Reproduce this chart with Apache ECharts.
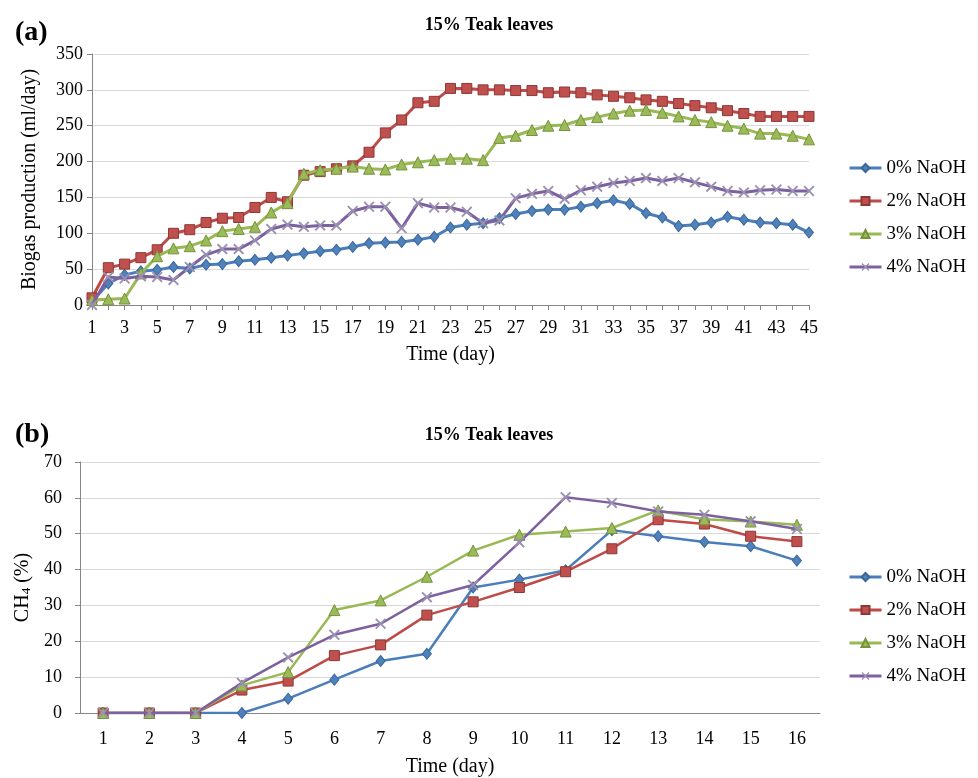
<!DOCTYPE html>
<html>
<head>
<meta charset="utf-8">
<title>15% Teak leaves</title>
<script src="https://cdn.jsdelivr.net/npm/echarts@6/dist/echarts.min.js"></script>
<style>
html, body { margin: 0; padding: 0; background: #fff; }
#chart { width: 978px; height: 778px; }
</style>
</head>
<body>
<div id="chart"></div>
<script>
// (a) biogas production, ml/day
const biogasDays = ["1", "2", "3", "4", "5", "6", "7", "8", "9", "10", "11", "12", "13", "14", "15",
  "16", "17", "18", "19", "20", "21", "22", "23", "24", "25", "26", "27", "28", "29", "30",
  "31", "32", "33", "34", "35", "36", "37", "38", "39", "40", "41", "42", "43", "44", "45"];
const biogas0 = [5, 30, 42, 47, 49, 53, 51, 56, 57, 61, 63, 66, 69, 72, 75, 77, 81, 86, 87, 88,
  91, 95, 108, 112, 114, 121, 127, 131, 133, 133, 137, 142, 146, 141, 128, 122, 110, 112, 115, 123,
  119, 115, 114, 112, 101];
const biogas2 = [10, 52, 57, 66, 77, 100, 105, 115, 121, 122, 136, 150, 144, 181, 186, 190, 194, 213, 240, 258,
  282, 284, 302, 302, 300, 300, 299, 299, 296, 297, 296, 293, 291, 289, 286, 284, 281, 278, 275, 271,
  267, 263, 263, 263, 263];
const biogas3 = [7, 8, 9, 44, 68, 79, 82, 90, 103, 106, 109, 129, 142, 183, 188, 190, 193, 190, 189, 196,
  199, 202, 204, 204, 202, 233, 236, 244, 250, 251, 258, 262, 267, 271, 272, 268, 263, 258, 255, 250,
  246, 239, 239, 236, 231];
const biogas4 = [0, 39, 37, 40, 39, 35, 53, 70, 78, 78, 90, 106, 112, 109, 111, 111, 131, 137, 137, 107,
  142, 136, 136, 130, 114, 118, 149, 155, 159, 148, 160, 165, 170, 173, 177, 173, 177, 171, 165, 159,
  157, 160, 161, 159, 159];

// (b) CH4 content, %
const ch4Days = ["1", "2", "3", "4", "5", "6", "7", "8", "9", "10", "11", "12", "13", "14", "15", "16"];
const ch4_0 = [0, 0, 0, 0, 4, 9.3, 14.5, 16.5, 35, 37.2, 39.8, 51, 49.3, 47.7, 46.5, 42.5];
const ch4_2 = [0, 0, 0, 6.4, 8.9, 16, 19, 27.3, 31, 35, 39.4, 45.8, 53.9, 52.7, 49.3, 47.8];
const ch4_3 = [0, 0, 0, 7.7, 11.4, 28.7, 31.4, 38, 45.3, 49.7, 50.6, 51.6, 56.5, 54, 53.4, 52.5];
const ch4_4 = [0, 0, 0, 8.4, 15.5, 21.8, 24.9, 32.3, 35.7, 47.6, 60.2, 58.6, 56.2, 55.3, 53.5, 51.3];

const names = ["0% NaOH", "2% NaOH", "3% NaOH", "4% NaOH"];

const font = '"Liberation Serif", "Times New Roman", serif';
const crossPath = "path://M0,1.2L1.2,0L5,3.8L8.8,0L10,1.2L6.2,5L10,8.8L8.8,10L5,6.2L1.2,10L0,8.8L3.8,5Z";
const styles = [
  { line: "#4A7EBB", fill: "#4F81BD", border: "#3A6797", symbol: "diamond", size: [9, 11] },
  { line: "#BE4B48", fill: "#C0504D", border: "#8C3836", symbol: "rect", size: 10 },
  { line: "#98B954", fill: "#9BBB59", border: "#76923C", symbol: "triangle", size: 11 },
  { line: "#7D60A0", fill: "#9A90B0", border: "#9A90B0", symbol: crossPath, size: 11 },
];

function makeSeries(i, data, idx, width) {
  const s = styles[i];
  return {
    name: names[i],
    type: "line",
    xAxisIndex: idx,
    yAxisIndex: idx,
    data: data,
    symbol: s.symbol,
    symbolSize: s.size,
    showAllSymbol: true,
    color: s.line,
    lineStyle: { color: s.line, width: width },
    itemStyle: { color: s.fill, borderColor: s.border, borderWidth: i === 3 ? 0 : 1 },
    z: 2 + i,
  };
}

function makeLegend(top) {
  return {
    orient: "vertical",
    left: 843,
    top: top,
    itemWidth: 32,
    itemHeight: 10,
    itemGap: 13,
    data: names,
    lineStyle: { width: 3 },
    textStyle: { fontFamily: font, fontSize: 19, color: "#000", lineHeight: 20 },
  };
}

const axisLineStyle = { color: "#868686", width: 1 };
const gridLineStyle = { color: "#D9D9D9", width: 1 };

const chart = echarts.init(document.getElementById("chart"));
chart.setOption({
  backgroundColor: "#fff",
  animation: false,
  textStyle: { fontFamily: font },
  title: [
    { text: "(a)", left: 10, top: 14, textStyle: { fontFamily: font, fontSize: 28, fontWeight: "bold", color: "#000" } },
    { text: "15% Teak leaves", left: "center", top: 11, textStyle: { fontFamily: font, fontSize: 18, fontWeight: "bold", color: "#000" } },
    { text: "(b)", left: 10, top: 416, textStyle: { fontFamily: font, fontSize: 28, fontWeight: "bold", color: "#000" } },
    { text: "15% Teak leaves", left: "center", top: 421, textStyle: { fontFamily: font, fontSize: 18, fontWeight: "bold", color: "#000" } },
  ],
  legend: [makeLegend(153), makeLegend(562)],
  grid: [
    { left: 92, top: 54, width: 717, height: 251 },
    { left: 80, top: 462, width: 740, height: 251 },
  ],
  xAxis: [
    {
      type: "category",
      gridIndex: 0,
      data: biogasDays,
      boundaryGap: false,
      name: "Time (day)",
      nameLocation: "middle",
      nameGap: 40,
      nameTextStyle: { fontFamily: font, fontSize: 20, color: "#000" },
      axisLine: { lineStyle: axisLineStyle },
      axisTick: { show: true, interval: 0, length: 5, lineStyle: axisLineStyle },
      axisLabel: { interval: 1, margin: 14, fontFamily: font, fontSize: 18, color: "#000" },
      splitLine: { show: false },
    },
    {
      type: "category",
      gridIndex: 1,
      data: ch4Days,
      boundaryGap: true,
      name: "Time (day)",
      nameLocation: "middle",
      nameGap: 44,
      nameTextStyle: { fontFamily: font, fontSize: 20, color: "#000" },
      axisLine: { lineStyle: axisLineStyle },
      axisTick: { show: false },
      axisLabel: { interval: 0, margin: 17, fontFamily: font, fontSize: 18, color: "#000" },
      splitLine: { show: false },
    },
  ],
  yAxis: [
    {
      type: "value",
      gridIndex: 0,
      min: 0,
      max: 350,
      interval: 50,
      name: "Biogas production (ml/day)",
      nameLocation: "middle",
      nameGap: 52,
      nameTextStyle: { fontFamily: font, fontSize: 20, color: "#000" },
      axisLine: { show: true, lineStyle: axisLineStyle },
      axisTick: { show: true, length: 5, lineStyle: axisLineStyle },
      axisLabel: { margin: 9, fontFamily: font, fontSize: 18, color: "#000" },
      splitLine: { show: true, lineStyle: gridLineStyle },
    },
    {
      type: "value",
      gridIndex: 1,
      min: 0,
      max: 70,
      interval: 10,
      name: "{n|CH}{s|4}{n| (%)}",
      nameLocation: "middle",
      nameGap: 40,
      nameTextStyle: {
        fontFamily: font,
        color: "#000",
        rich: {
          n: { fontFamily: font, fontSize: 20, color: "#000" },
          s: { fontFamily: font, fontSize: 13, color: "#000", verticalAlign: "bottom", padding: [8, 0, 0, 0] },
        },
      },
      axisLine: { show: true, lineStyle: axisLineStyle },
      axisTick: { show: true, length: 5, lineStyle: axisLineStyle },
      axisLabel: { margin: 18, fontFamily: font, fontSize: 18, color: "#000" },
      splitLine: { show: true, lineStyle: gridLineStyle },
    },
  ],
  series: [
    makeSeries(0, biogas0, 0, 3),
    makeSeries(1, biogas2, 0, 3),
    makeSeries(2, biogas3, 0, 3),
    makeSeries(3, biogas4, 0, 3),
    makeSeries(0, ch4_0, 1, 2.5),
    makeSeries(1, ch4_2, 1, 2.5),
    makeSeries(2, ch4_3, 1, 2.5),
    makeSeries(3, ch4_4, 1, 2.5),
  ],
});
</script>
</body>
</html>
